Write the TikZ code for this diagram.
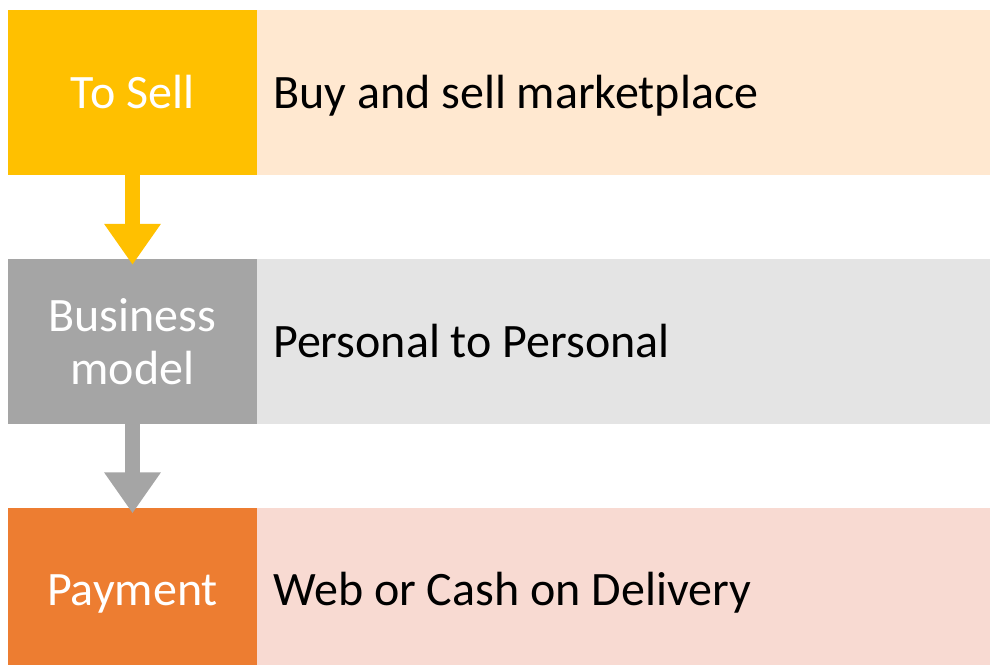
\documentclass[tikz,border=0pt]{standalone}
\usepackage{fontspec}
\setmainfont{Carlito}
\usetikzlibrary{arrows.meta}
\definecolor{cyel}{HTML}{FFC000}
\definecolor{cgry}{HTML}{A5A5A5}
\definecolor{corg}{HTML}{ED7D31}
\definecolor{lyel}{HTML}{FFE8D0}
\definecolor{lgry}{HTML}{E4E4E4}
\definecolor{lorg}{HTML}{F8DAD2}
\tikzset{
  leftbox/.style={minimum width=249pt, minimum height=165pt, inner sep=0pt, text=white, align=center, font=\fontsize{48}{53}\selectfont},
  onerow/.style={text height=31pt, text depth=0pt},
  rightbox/.style={minimum width=733pt, minimum height=165pt, inner sep=0pt},
  rtext/.style={anchor=base west, inner sep=0pt, text=black, font=\fontsize{48}{53}\selectfont},
  flow/.style={line width=15pt, -{Triangle[length=41pt,width=54pt]}, shorten >=-6pt}
}
\begin{document}
\begin{tikzpicture}[x=1pt,y=-1pt]
\useasboundingbox (0,0) rectangle (990,664);
\clip (0,0) rectangle (990,664);
\fill[white] (0,0) rectangle (990,664);
% row 1
\node[rightbox, fill=lyel] (r1) at (623.5,92.5) {};
\node[leftbox, onerow, fill=cyel] (l1) at (132.5,92.5) {To Sell};
\node[rtext] (t1) at (273,108) {Buy and sell marketplace};
% row 2
\node[rightbox, fill=lgry] (r2) at (623.5,341.5) {};
\node[leftbox, fill=cgry] (l2) at (132.5,341.5) {Business\\model};
\node[rtext] (t2) at (273,357) {Personal to Personal};
% row 3
\node[rightbox, fill=lorg] (r3) at (623.5,590) {};
\node[leftbox, onerow, fill=corg] (l3) at (132.5,590) {Payment};
\node[rtext] (t3) at (273,605.5) {Web or Cash on Delivery};
% arrows
\draw[flow, cyel] (l1.south) -- (l2.north);
\draw[flow, cgry] (l2.south) -- (l3.north);
\end{tikzpicture}
\end{document}
